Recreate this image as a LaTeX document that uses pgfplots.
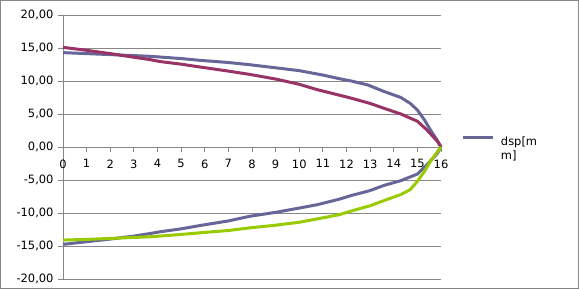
\documentclass[border=0pt]{standalone}
\usepackage{pgfplots}
\pgfplotsset{compat=1.18}
\usepackage{fontspec}
\setmainfont{DejaVu Sans}
\definecolor{sblue}{HTML}{666699}
\definecolor{smag}{HTML}{993366}
\definecolor{sgreen}{HTML}{99CC00}
\definecolor{gridg}{HTML}{878787}
\begin{document}
\begin{tikzpicture}[x=1bp,y=1bp]
\path[use as bounding box] (0,0) rectangle (579,289);
\draw[gridg, line width=1bp] (0.5,0.5) rectangle (578.5,288.5);
\begin{axis}[
  at={(63bp,10bp)}, anchor=south west,
  width=378bp, height=264bp, scale only axis,
  xmin=0, xmax=16, ymin=-20, ymax=20,
  axis x line*=middle, axis y line*=left,
  hide obscured x ticks=false,
  axis line style={gridg, line width=0.9bp},
  xtick={0,1,...,16},
  ytick={-20,-15,-10,-5,0,5,10,15,20},
  yticklabels={{-20,00},{-15,00},{-10,00},{-5,00},{0,00},{5,00},{10,00},{15,00},{20,00}},
  ymajorgrids,
  grid style={gridg, line width=0.9bp},
  tick align=outside, major tick length=5bp,
  tick style={gridg, line width=0.9bp},
  ticklabel style={font=\fontsize{11.5}{13}\selectfont},
  xticklabel style={yshift=-4bp},
  yticklabel style={xshift=-1bp},
  /pgf/number format/assume math mode=true,
  clip=false,
  legend style={at={(1.055,0.551)}, anchor=north west, draw=none, fill=none,
    font=\fontsize{11.5}{14}\selectfont, inner sep=0pt},
  legend cell align=left,
  legend image code/.code={\draw[#1, line width=3bp] (0bp,3.8bp) -- (30bp,3.8bp);\path (34bp,0bp);},
]
\addplot[sblue, line width=3bp] coordinates {
(0,14.30) (1,14.15) (2,14.00) (3,13.85) (3.7,13.74) (5,13.40) (5.8,13.13)
(7,12.80) (7.9,12.47) (9,12.00) (10,11.57) (11,10.90) (11.7,10.35) (12.2,10.00)
(12.9,9.40) (13.6,8.40) (14.3,7.50) (14.7,6.60) (15.0,5.60) (15.3,4.10)
(15.55,2.60) (15.85,0.95) (16,0)};
\addlegendentry{{\begin{tabular}[t]{@{}l@{}}dsp[m\\m]\end{tabular}}}
\addplot[smag, line width=3bp, forget plot] coordinates {
(0,15.10) (1,14.65) (2,14.15) (3,13.60) (3.7,13.23) (4.1,12.95) (5,12.55)
(5.8,12.12) (7,11.50) (7.9,11.00) (9,10.30) (10,9.50) (10.75,8.70) (11.7,7.85)
(12.2,7.40) (13,6.60) (13.6,5.85) (14.3,5.00) (15.0,3.90) (15.4,2.60)
(15.85,0.85) (16,0)};
\addplot[sblue, line width=3bp, forget plot] coordinates {
(0,-14.75) (1,-14.35) (2,-13.95) (3,-13.50) (3.7,-13.10) (4.1,-12.85) (5,-12.40)
(5.8,-11.90) (7,-11.20) (7.9,-10.50) (9,-9.90) (10,-9.25) (10.75,-8.75)
(11.7,-7.90) (12.2,-7.35) (13,-6.60) (13.6,-5.80) (14.3,-5.10) (15.0,-4.10)
(15.4,-2.70) (15.85,-0.95) (16,0)};
\addplot[sgreen, line width=3bp, forget plot] coordinates {
(0,-14.10) (1,-14.00) (2,-13.85) (3,-13.70) (3.7,-13.60) (5,-13.25) (5.8,-13.00)
(7,-12.65) (7.9,-12.25) (9,-11.85) (10,-11.40) (10.75,-10.90) (11.7,-10.25)
(12.2,-9.70) (13,-8.90) (13.6,-8.10) (14.3,-7.20) (14.7,-6.45) (15.0,-5.20)
(15.3,-3.70) (15.55,-2.20) (15.85,-0.70) (16,0)};
\end{axis}
\end{tikzpicture}
\end{document}
